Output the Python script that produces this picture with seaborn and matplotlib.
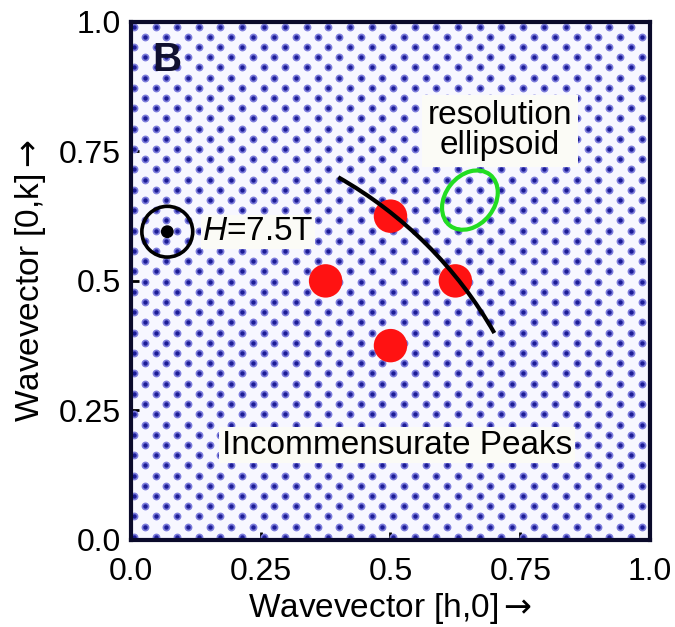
import numpy as np
import matplotlib
matplotlib.use('Agg')
import matplotlib.pyplot as plt
from matplotlib.patches import Arc, Circle, Ellipse
import pandas as pd
import seaborn as sns

# Incommensurate peak positions (h, k)
peak_h = [0.375, 0.5, 0.625, 0.5]
peak_k = [0.5, 0.625, 0.5, 0.375]

# arc through the peaks: radius and angle span (degrees)
arc_radius = 0.806
arc_theta = [29.7, 60.3]

# resolution ellipsoid
ellipse_center = [0.653, 0.656]
ellipse_axes = [0.125, 0.095]
ellipse_angle = 52

# field marker (circle with dot)
field_center = [0.07, 0.595]
field_radius = 0.049
field_label = r'$H$=7.5T'

ticks = [0.0, 0.25, 0.5, 0.75, 1.0]
tick_labels = ['0.0', '0.25', '0.5', '0.75', '1.0']

# Stil
sns.set_theme(style='white')
plt.rcParams['font.family'] = ['Liberation Sans', 'DejaVu Sans']
plt.rcParams['text.color'] = 'black'
plt.rcParams['axes.labelcolor'] = 'black'
plt.rcParams['mathtext.fontset'] = 'custom'
plt.rcParams['mathtext.it'] = 'Liberation Sans:italic'
plt.rcParams['mathtext.rm'] = 'Liberation Sans'
plt.rcParams['mathtext.sf'] = 'DejaVu Sans'

DOT_STEP_X = 0.0208
DOT_STEP_Y = 0.0197
ARROW = r'$\mathsf{\rightarrow}$'

fig = plt.figure(figsize=(6.75, 6.27), dpi=100)
ax = fig.add_axes([0.194, 0.139, 0.769, 0.826])
ax.set_facecolor('#f7f7ff')

# background dot texture (checkerboard lattice in axes fraction)
gx, gy = np.meshgrid(np.arange(0.006, 1.0, DOT_STEP_X), np.arange(0.006, 1.0, DOT_STEP_Y))
ix, iy = np.meshgrid(np.arange(gx.shape[1]), np.arange(gx.shape[0]))
mask = (ix + iy) % 2 == 0
ax.scatter(gx[mask], gy[mask], s=32, color='#7c7cdc', linewidths=0,
           transform=ax.transAxes, zorder=1)
ax.scatter(gx[mask], gy[mask], s=10, color='#1c1c96', linewidths=0,
           transform=ax.transAxes, zorder=1.1)

peaks = pd.DataFrame({'h': peak_h, 'k': peak_k})
sns.scatterplot(data=peaks, x='h', y='k', ax=ax, s=580, color='#ff1212',
                edgecolor='none', zorder=3, legend=False)

ax.add_patch(Arc((0, 0), 2 * arc_radius, 2 * arc_radius, theta1=arc_theta[0],
                 theta2=arc_theta[1], color='black', lw=3, zorder=4))
ax.add_patch(Ellipse(ellipse_center, ellipse_axes[0], ellipse_axes[1],
                     angle=ellipse_angle, fill=False, edgecolor='#22dd22',
                     lw=3, zorder=4))
ax.add_patch(Circle(field_center, field_radius, fill=False, edgecolor='black',
                    lw=2.6, zorder=4))
ax.add_patch(Circle(field_center, 0.011, color='black', zorder=4))

ax.text(0.137, 0.595, field_label, fontsize=24, va='center', ha='left',
        zorder=5, bbox=dict(facecolor='#fbfbf6', edgecolor='none', pad=1))
ax.text(0.069, 0.927, 'B', fontsize=29, fontweight='bold', ha='center',
        va='center', color='#101030', zorder=5)
ax.text(0.711, 0.79, 'resolution\nellipsoid', fontsize=24, ha='center',
        va='center', linespacing=0.95, zorder=5,
        bbox=dict(facecolor='#fbfbf6', edgecolor='none', pad=4))
ax.text(0.513, 0.183, 'Incommensurate Peaks', fontsize=24, ha='center',
        va='center', zorder=5,
        bbox=dict(facecolor='#fbfbf6', edgecolor='none', pad=2))

ax.set_xlim(0, 1)
ax.set_ylim(0, 1)
ax.set_xticks(ticks)
ax.set_xticklabels(tick_labels)
ax.set_yticks(ticks)
ax.set_yticklabels(tick_labels)
ax.tick_params(direction='in', length=6, width=2, labelsize=23,
               colors='black', bottom=True, left=True)
ax.tick_params(axis='x', pad=12)
ax.tick_params(axis='y', pad=7)
ax.set_xlabel('Wavevector [h,0]' + ARROW, fontsize=24, labelpad=3)
ax.set_ylabel('Wavevector [0,k]' + ARROW, fontsize=24, labelpad=8)
for sp in ax.spines.values():
    sp.set_linewidth(3)
    sp.set_color('#0a0a2a')
    sp.set_zorder(6)

fig.savefig('out.png', dpi=100)
